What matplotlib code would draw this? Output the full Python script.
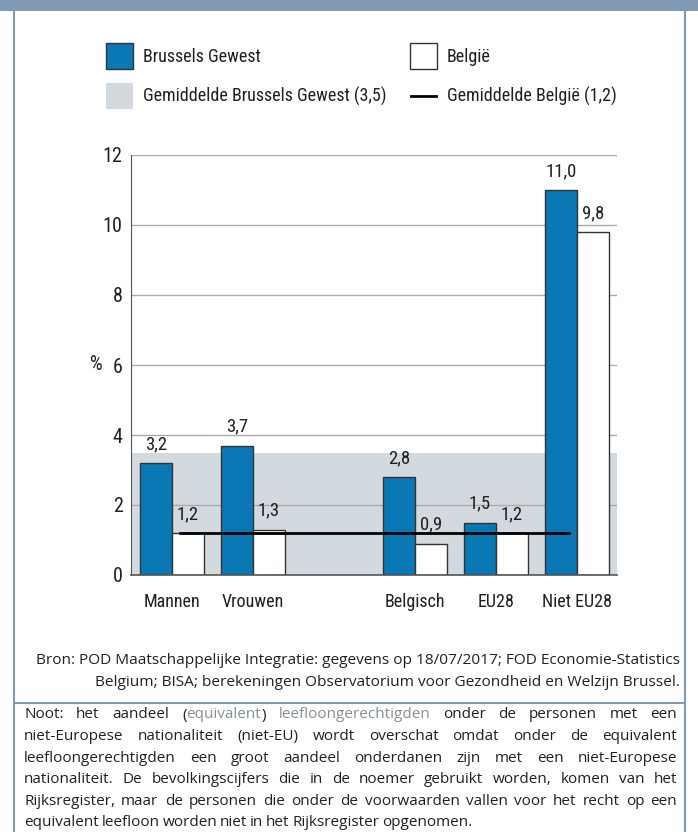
import matplotlib
matplotlib.use("Agg")
import matplotlib.pyplot as plt
import matplotlib.patches as patches
from matplotlib import font_manager
import numpy as np

# data
categories = ["Mannen", "Vrouwen", "Belgisch", "EU28", "Niet EU28"]
brussels = [3.2, 3.7, 2.8, 1.5, 11.0]
belgie = [1.2, 1.3, 0.9, 1.2, 9.8]
avg_brussels = 3.5
avg_belgie = 1.2
yticks = [0, 2, 4, 6, 8, 10, 12]

legend_labels = ["Brussels Gewest", "België",
                 "Gemiddelde Brussels Gewest (3,5)", "Gemiddelde België (1,2)"]

source_lines = [
    "Bron: POD Maatschappelijke Integratie: gegevens op 18/07/2017; FOD Economie-Statistics",
    "Belgium; BISA; berekeningen Observatorium voor Gezondheid en Welzijn Brussel.",
]
# words in {} are printed grey
note_lines = [
    "Noot: het aandeel ({equivalent}) {leefloongerechtigden} onder de personen met een",
    "niet-Europese nationaliteit (niet-EU) wordt overschat omdat onder de equivalent",
    "leefloongerechtigden een groot aandeel onderdanen zijn met een niet-Europese",
    "nationaliteit. De bevolkingscijfers die in de noemer gebruikt worden, komen van het",
    "Rijksregister, maar de personen die onder de voorwaarden vallen voor het recht op een",
    "equivalent leefloon worden niet in het Rijksregister opgenomen.",
]

BLUE = "#0a78b4"
BAND = "#d3dadf"
FRAME = "#8198b6"
DARK = "#231f20"
GREY_TXT = "#8a8d90"

# pick a narrow face for the chart if one is installed
installed = {f.name for f in font_manager.fontManager.ttflist}
narrow = dict(family="DejaVu Sans", stretch="condensed")
for name in ["Liberation Sans Narrow", "Roboto Condensed", "Open Sans Condensed"]:
    if name in installed:
        narrow = dict(family=name)
        break
body = dict(family="Open Sans" if "Open Sans" in installed else "DejaVu Sans")

W, H = 698, 832
fig = plt.figure(figsize=(W / 100, H / 100), dpi=100)


def fx(px):
    return px / W


def fy(py):
    return 1 - py / H


# frame around the figure
fig.add_artist(patches.Rectangle((0, fy(11)), 1, fy(0) - fy(11), transform=fig.transFigure,
                                 color=FRAME, lw=0))
for x in [14, 685]:
    fig.add_artist(plt.Line2D([fx(x), fx(x)], [0, fy(10)], transform=fig.transFigure,
                              color=FRAME, lw=1.5))
fig.add_artist(plt.Line2D([fx(14), fx(685)], [fy(703), fy(703)], transform=fig.transFigure,
                          color=FRAME, lw=1.5))

# bar chart
ax = fig.add_axes([fx(131), fy(575), fx(617) - fx(131), fy(155) - fy(575)])
pos = np.arange(len(categories), dtype=float)
pos[2:] += 1  # gap between sex and nationality groups
bw = 0.395
ax.bar(pos - bw / 2, brussels, bw, color=BLUE, edgecolor="#333333", lw=1, zorder=2)
ax.bar(pos + bw / 2, belgie, bw, color="white", edgecolor="#333333", lw=1, zorder=2)
ax.axhspan(0, avg_brussels, color=BAND, lw=0, zorder=0.2)
ax.plot([pos[0] + 0.1, pos[-1] - 0.1], [avg_belgie, avg_belgie], color="black", lw=2, zorder=3)

for xs, vals in [(pos - bw / 2, brussels), (pos + bw / 2, belgie)]:
    for x, v in zip(xs, vals):
        ax.annotate(f"{v:.1f}".replace(".", ","), (x, v), xytext=(0, 7), textcoords="offset points",
                    ha="center", va="bottom", fontsize=13.5, color=DARK, **narrow)

ax.set_xlim(pos[0] - 0.506, pos[-1] + 0.494)
ax.set_ylim(0, 12)
ax.set_yticks(yticks)
ax.set_yticklabels([str(t) for t in yticks], fontsize=14.5, color=DARK, **narrow)
ax.set_xticks(pos)
ax.set_xticklabels(categories, fontsize=13, color=DARK, **narrow)
ax.tick_params(axis="y", length=0, pad=6)
ax.tick_params(axis="x", length=0, pad=13)
ax.grid(axis="y", color="#aaaaaa", lw=1)
ax.set_axisbelow(True)
for s in ["top", "right"]:
    ax.spines[s].set_visible(False)
ax.spines["left"].set_color("#555555")
ax.spines["bottom"].set_color("#555555")
ax.spines["bottom"].set_linewidth(1.2)
fig.text(fx(96), fy(364), "%", ha="center", va="center", fontsize=14.5, color=DARK, **narrow)

# legend
sq_h = fx(26) * W / H
fig.add_artist(patches.Rectangle((fx(106), fy(69)), fx(27), sq_h, transform=fig.transFigure,
                                 facecolor=BLUE, edgecolor="#333333", lw=1))
fig.add_artist(patches.Rectangle((fx(410), fy(69)), fx(27), sq_h, transform=fig.transFigure,
                                 facecolor="white", edgecolor="#333333", lw=1))
fig.add_artist(patches.Rectangle((fx(106), fy(109)), fx(27), sq_h, transform=fig.transFigure,
                                 facecolor=BAND, lw=0))
fig.add_artist(plt.Line2D([fx(411), fx(436)], [fy(96), fy(96)], transform=fig.transFigure,
                          color="black", lw=2))
for (x, y), lab in zip([(143, 57), (447, 57), (143, 96), (447, 96)], legend_labels):
    fig.text(fx(x), fy(y), lab, ha="left", va="center", fontsize=13, color=DARK, **narrow)

# source
for i, line in enumerate(source_lines):
    fig.text(fx(680), fy(660 + 22 * i), line, ha="right", va="center", fontsize=11.1,
             color=DARK, **body)

# justified note
renderer = fig.canvas.get_renderer()
left, right = 24, 677
note_size = 11


def measure(s):
    t = fig.text(0, 0, s, fontsize=note_size, **body)
    w = t.get_window_extent(renderer).width
    t.remove()
    return w


def segments(word):
    out = []
    grey = False
    buf = ""
    for ch in word:
        if ch in "{}":
            if buf:
                out.append((buf, grey))
            buf = ""
            grey = ch == "{"
        else:
            buf += ch
    if buf:
        out.append((buf, grey))
    return out


# the reference face has tighter word spaces
space_w = (measure("a a") - measure("aa")) * 0.7
for i, line in enumerate(note_lines):
    y = fy(715 + 21.6 * i)
    words = line.split(" ")
    widths = [measure(w.replace("{", "").replace("}", "")) for w in words]
    if i < len(note_lines) - 1:
        gap = (right - left - sum(widths)) / (len(words) - 1)
    else:
        gap = space_w
    x = left
    for w, wd in zip(words, widths):
        sx = x
        for seg, grey in segments(w):
            fig.text(fx(sx), y, seg, ha="left", va="center", fontsize=note_size,
                     color=GREY_TXT if grey else DARK, **body)
            sx += measure(seg)
        x += wd + gap

fig.savefig("out.png", dpi=100)
